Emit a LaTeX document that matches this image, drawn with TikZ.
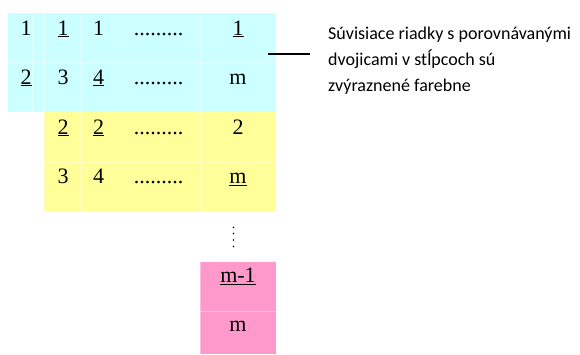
\documentclass[tikz,border=0pt]{standalone}
\usepackage{fontspec}
\setmainfont{Liberation Serif}
\newfontfamily\notefont{Carlito}
\definecolor{cyanbg}{HTML}{CCFFFF}
\definecolor{yellowbg}{HTML}{FFFF99}
\definecolor{pinkbg}{HTML}{FF99CC}
\begin{document}
\begin{tikzpicture}[x=1bp,y=-1bp,
  cell/.style={anchor=base,inner sep=0pt,font=\fontsize{22bp}{26bp}\selectfont},
  note/.style={anchor=base west,inner sep=0pt,font=\notefont\fontsize{18bp}{26bp}\selectfont},
  grid/.style={white,opacity=0.35,line width=0.6bp},
  vdot/.style={fill=black,draw=none}]
\useasboundingbox (0,0) rectangle (580,354);
% backgrounds
\fill[cyanbg] (8,13) rectangle (276,112);
\fill[yellowbg] (44,112) rectangle (276,212);
\fill[pinkbg] (200,262) rectangle (276,354);
% faint cell borders
\draw[grid] (32,13) -- (32,112);
\draw[grid] (44,13) -- (44,212);
\draw[grid] (80,13) -- (80,212);
\draw[grid] (200,13) -- (200,212);
\draw[grid] (200,262) -- (200,354);
\draw[grid] (8,62) -- (276,62);
\draw[grid] (44,162) -- (276,162);
\draw[grid] (200,311) -- (276,311);
% row 1
\node[cell] (r1c1) at (26,35) {1};
\node[cell] (r1c2) at (63,35) {\underline{1}};
\node[cell] (r1c3) at (98.5,35) {1};
\node[cell] (r1c4) at (158.5,35) {.........};
\node[cell] (r1c5) at (238,35) {\underline{1}};
% row 2
\node[cell] (r2c1) at (26,84) {\underline{2}};
\node[cell] (r2c2) at (63,84) {3};
\node[cell] (r2c3) at (98.5,84) {\underline{4}};
\node[cell] (r2c4) at (158.5,84) {.........};
\node[cell] (r2c5) at (238,84) {m};
% row 3
\node[cell] (r3c2) at (63,134) {\underline{2}};
\node[cell] (r3c3) at (98.5,134) {\underline{2}};
\node[cell] (r3c4) at (158.5,134) {.........};
\node[cell] (r3c5) at (238,134) {2};
% row 4
\node[cell] (r4c2) at (63,183.5) {3};
\node[cell] (r4c3) at (98.5,183.5) {4};
\node[cell] (r4c4) at (158.5,183.5) {.........};
\node[cell] (r4c5) at (238,183.5) {\underline{m}};
% vertical dots
\foreach \yy in {227.5,233.5,240,246.5} \fill[vdot] (233.5,\yy) circle (0.9);
% pink rows
\node[cell] (r5c5) at (238,282.5) {\underline{m-1}};
\node[cell] (r6c5) at (238,331.5) {m};
% note
\node[note] (t1) at (328,39.5) {Súvisiace riadky s porovnávanými};
\node[note] (t2) at (328,65.5) {dvojicami v stĺpcoch sú};
\node[note] (t3) at (328,91.5) {zvýraznené farebne};
\coordinate (lineA) at (268,54);
\coordinate (lineB) at (310,54);
\draw[line width=1.4bp] (lineA) -- (lineB);
\end{tikzpicture}
\end{document}
